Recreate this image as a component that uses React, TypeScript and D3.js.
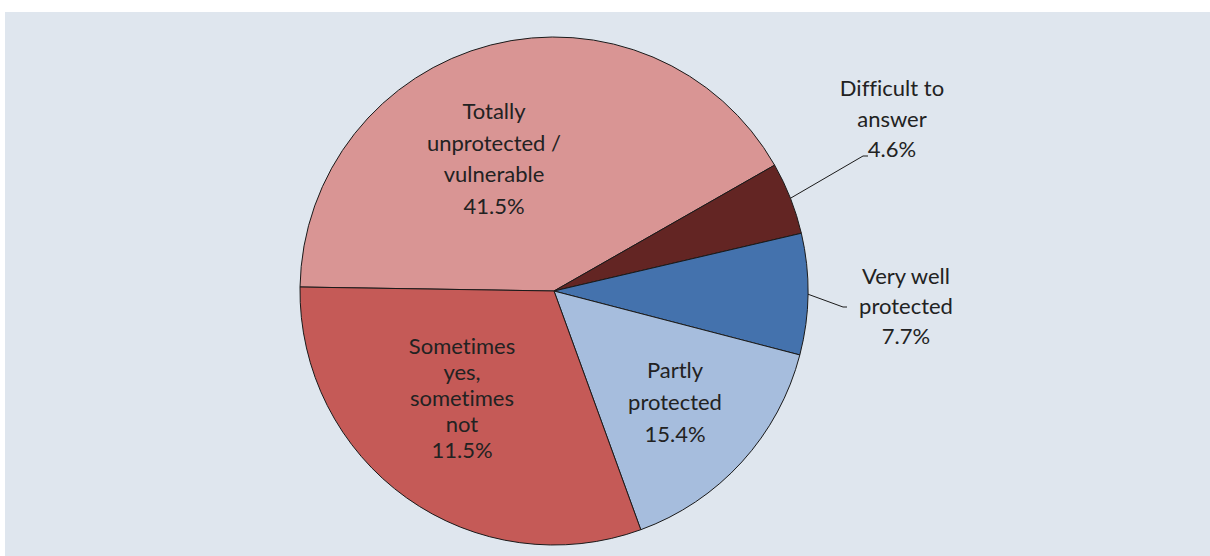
import React from "react";
import * as d3 from "d3";

// Slice sizes and the printed labels
const categories = [
  "Totally unprotected / vulnerable",
  "Difficult to answer",
  "Very well protected",
  "Partly protected",
  "Sometimes yes, sometimes not",
];
const sliceValues = [41.5, 4.6, 7.7, 15.4, 30.8];
const printedPercent = ["41.5%", "4.6%", "7.7%", "15.4%", "11.5%"];
const labelLines = [
  ["Totally", "unprotected /", "vulnerable"],
  ["Difficult to", "answer"],
  ["Very well", "protected"],
  ["Partly", "protected"],
  ["Sometimes", "yes,", "sometimes", "not"],
];

// Styling / layout
const colors = ["#d99594", "#632523", "#4472ad", "#a6bddd", "#c55a57"];
const labelLayout = [
  { x: 494, y: 119, dy: 31.7, leader: false },
  { x: 892, y: 96, dy: 30.5, leader: true, lx: 863, ly: 156, hx: 868 },
  { x: 906, y: 284, dy: 30, leader: true, lx: 843, ly: 307, hx: 847 },
  { x: 675, y: 378, dy: 32, leader: false },
  { x: 462, y: 354, dy: 26, leader: false },
];

const W = 1210;
const H = 556;
const cx = 554;
const cy = 291;
const R = 254;
const startDeg = -89.1;

export default function App() {
  const start = (startDeg * Math.PI) / 180;
  const pie = d3
    .pie<number>()
    .sort(null)
    .value((d) => d)
    .startAngle(start)
    .endAngle(start + 2 * Math.PI);
  const arcs = pie(sliceValues);
  const arc = d3.arc<d3.PieArcDatum<number>>().innerRadius(0).outerRadius(R);

  return (
    <svg
      width={W}
      height={H}
      style={{ position: "absolute", left: 0, top: 0, fontVariantLigatures: "none" }}
      fontFamily="Lato, 'Open Sans', sans-serif"
    >
      <rect x={0} y={0} width={W} height={H} fill="#ffffff" />
      <rect x={5} y={12} width={W - 5} height={H - 12} fill="#dfe6ee" />
      <g transform={`translate(${cx},${cy})`}>
        {arcs.map((a, i) => (
          <path
            key={categories[i]}
            d={arc(a) || ""}
            fill={colors[i]}
            stroke="#1a1a1a"
            strokeWidth={1}
            strokeLinejoin="round"
          />
        ))}
      </g>
      {arcs.map((a, i) => {
        const L = labelLayout[i];
        if (!L.leader) return null;
        const mid = (a.startAngle + a.endAngle) / 2;
        const px = cx + R * Math.sin(mid);
        const py = cy - R * Math.cos(mid);
        return (
          <polyline
            key={"l" + i}
            points={`${px},${py} ${L.lx},${L.ly} ${L.hx},${L.ly}`}
            fill="none"
            stroke="#1a1a1a"
            strokeWidth={1}
          />
        );
      })}
      {labelLines.map((lines, i) => {
        const L = labelLayout[i];
        const all = [...lines, printedPercent[i]];
        return (
          <text
            key={"t" + i}
            x={L.x}
            y={L.y}
            textAnchor="middle"
            fontSize={22}
            fill="#222222"
          >
            {all.map((s, j) => (
              <tspan key={j} x={L.x} y={L.y + j * L.dy}>
                {s}
              </tspan>
            ))}
          </text>
        );
      })}
    </svg>
  );
}
